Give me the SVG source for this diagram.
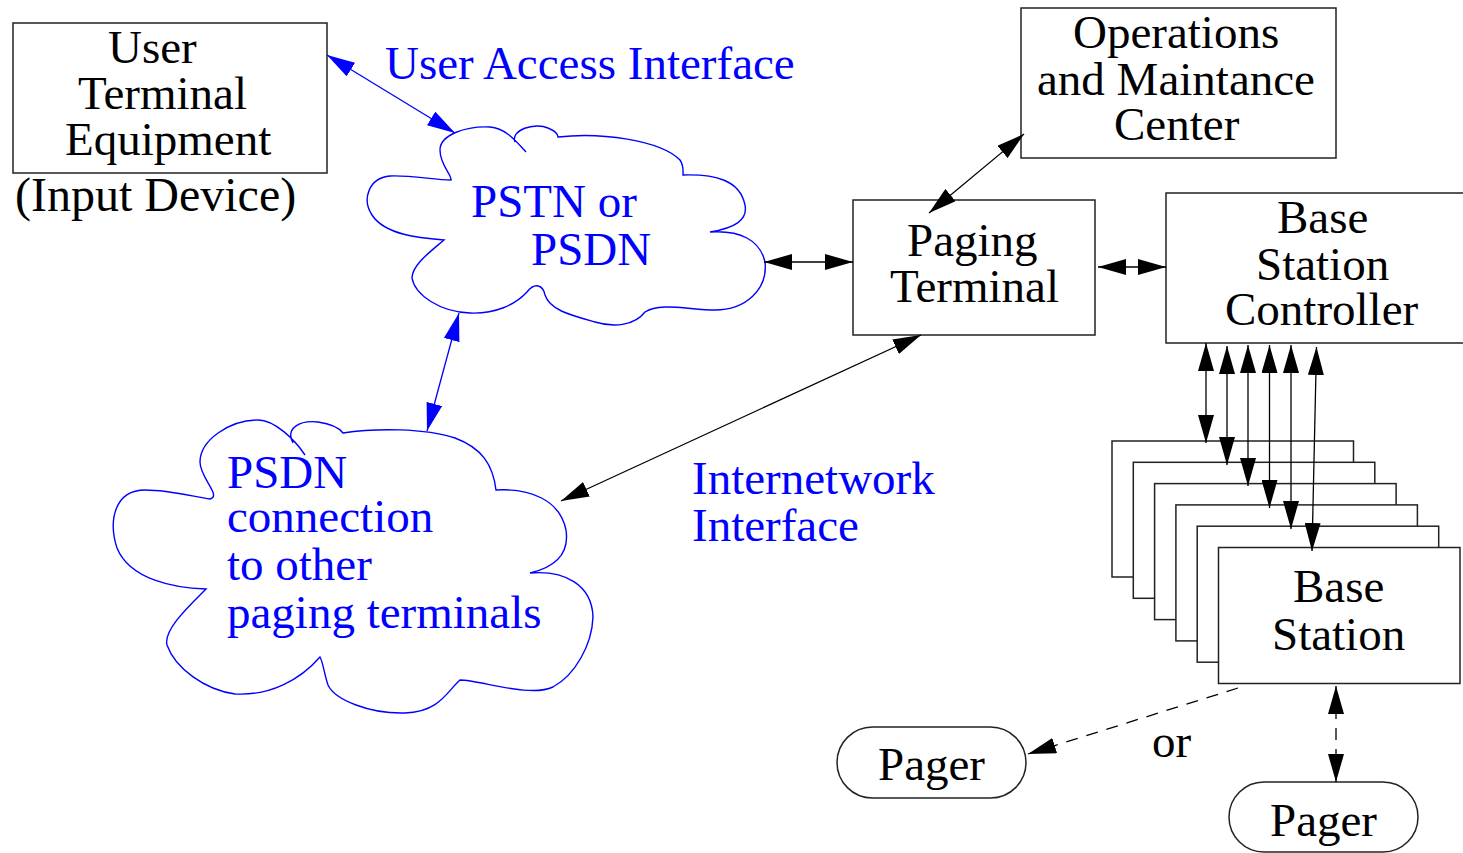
<svg xmlns="http://www.w3.org/2000/svg" width="1463" height="853" viewBox="0 0 1463 853">
<style>
  text { font-family: "Liberation Serif", "Times New Roman", serif; font-size: 47px; fill: #000; }
  .blue { fill: #0000ff; }
  .box { fill: #fff; stroke: #222; stroke-width: 1.5; }
  .cloud { fill: none; stroke: #0000ff; stroke-width: 1.4; }
  .ln { fill: none; stroke: #000; stroke-width: 1.3; }
  .lnb { fill: none; stroke: #0000ff; stroke-width: 1.3; }
  .dash { stroke-dasharray: 12 9; }
</style>
<defs>
  <marker id="ah" markerUnits="userSpaceOnUse" markerWidth="28" markerHeight="16" refX="28" refY="8" orient="auto-start-reverse">
    <path d="M0,0 L28,8 L0,16 z" fill="#000"/>
  </marker>
  <marker id="ahb" markerUnits="userSpaceOnUse" markerWidth="28" markerHeight="16" refX="28" refY="8" orient="auto-start-reverse">
    <path d="M0,0 L28,8 L0,16 z" fill="#0000ff"/>
  </marker>
</defs>
<rect width="1463" height="853" fill="#fff"/>

<g id="user-terminal">
  <rect class="box" x="13" y="23" width="314" height="150"/>
  <text x="108" y="63">User</text>
  <text x="78" y="109">Terminal</text>
  <text x="65" y="155">Equipment</text>
  <text x="15" y="211" style="font-size:48px">(Input Device)</text>
</g>

<g id="user-access-label">
  <text class="blue" x="385" y="79">User Access Interface</text>
</g>

<g id="pstn-cloud">
  <path class="cloud" d="M 515,142 C 510,130 535,122 548,128 C 555,131 558,134 558,137 C 600,132 660,140 680,160 C 684,166 683,172 683,175 C 715,174 740,180 745,205 C 748,220 735,228 710,232 C 740,230 760,240 765,262 C 768,290 745,310 715,310 C 690,310 660,302 645,312 C 635,325 615,328 595,322 C 570,315 550,310 545,295 C 543,285 535,282 527,292 C 515,305 495,314 470,313 C 440,312 415,295 412,278 C 412,265 430,252 444,240 C 420,238 385,235 372,215 C 362,200 368,178 390,176 C 410,175 435,180 451,180 C 452,175 440,165 440,150 C 440,135 465,126 490,127 C 505,128 515,140 526,152"/>
  <text class="blue" x="471" y="217">PSTN or</text>
  <text class="blue" x="531" y="265">PSDN</text>
</g>

<g id="psdn-cloud">
  <path class="cloud" d="M 293,443 C 285,428 300,420 318,422 C 332,424 340,429 343,433 C 375,428 425,428 455,438 C 482,448 493,465 496,490 C 530,488 560,500 566,530 C 569,550 560,566 530,573 C 565,570 592,585 593,617 C 592,645 575,675 553,687 C 530,698 480,680 460,680 C 448,690 440,712 405,713 C 370,714 335,700 328,685 C 324,673 323,662 320,657 C 300,680 270,696 235,694 C 205,690 175,668 167,645 C 163,630 190,605 206,589 C 175,588 130,580 117,548 C 108,520 115,490 145,490 C 170,490 195,497 210,499 C 222,496 200,478 200,462 C 200,440 230,420 258,420 C 275,420 295,440 305,455"/>
  <text class="blue" x="227" y="488">PSDN</text>
  <text class="blue" x="227" y="532">connection</text>
  <text class="blue" x="227" y="580">to other</text>
  <text class="blue" x="227" y="628">paging terminals</text>
</g>

<g id="operations">
  <rect class="box" x="1021" y="8" width="315" height="150"/>
  <text x="1073" y="48">Operations</text>
  <text x="1037" y="95">and Maintance</text>
  <text x="1114" y="140">Center</text>
</g>

<g id="paging-terminal">
  <rect class="box" x="853" y="200" width="242" height="135"/>
  <text x="907" y="256">Paging</text>
  <text x="890" y="302">Terminal</text>
</g>

<g id="base-station-controller">
  <rect class="box" x="1166" y="193" width="300" height="150"/>
  <text x="1277" y="233">Base</text>
  <text x="1256" y="280">Station</text>
  <text x="1225" y="325">Controller</text>
</g>

<g id="base-stations">
  <rect class="box" x="1112" y="441" width="241.5" height="136"/>
  <rect class="box" x="1133.3" y="462.3" width="241.5" height="136"/>
  <rect class="box" x="1154.6" y="483.6" width="241.5" height="136"/>
  <rect class="box" x="1175.9" y="504.9" width="241.5" height="136"/>
  <rect class="box" x="1197.2" y="526.2" width="241.5" height="136"/>
  <rect class="box" x="1218.5" y="547.5" width="241.5" height="136"/>
  <text x="1293" y="602">Base</text>
  <text x="1272" y="650">Station</text>
</g>

<g id="pager-left">
  <rect class="box" x="837" y="727" width="189" height="71" rx="35.5"/>
  <text x="878" y="780">Pager</text>
</g>

<g id="pager-right">
  <rect class="box" x="1229" y="782" width="189" height="70" rx="35"/>
  <text x="1270" y="836">Pager</text>
</g>

<g id="internetwork-label">
  <text class="blue" x="692" y="494">Internetwork</text>
  <text class="blue" x="692" y="541">Interface</text>
</g>

<g id="or-label">
  <text x="1152" y="757">or</text>
</g>

<g id="connectors">
  <line class="lnb" x1="327" y1="55" x2="455" y2="133" marker-start="url(#ahb)" marker-end="url(#ahb)"/>
  <line class="lnb" x1="459" y1="313" x2="427" y2="431" marker-start="url(#ahb)" marker-end="url(#ahb)"/>
  <line class="ln" x1="764" y1="262" x2="853" y2="262" marker-start="url(#ah)" marker-end="url(#ah)"/>
  <line class="ln" x1="929" y1="213" x2="1024" y2="134" marker-start="url(#ah)" marker-end="url(#ah)"/>
  <line class="ln" x1="1098" y1="267" x2="1166" y2="267" marker-start="url(#ah)" marker-end="url(#ah)"/>
  <line class="ln" x1="921" y1="335" x2="561" y2="501" marker-start="url(#ah)" marker-end="url(#ah)"/>
  <line class="ln" x1="1206" y1="343" x2="1206" y2="443" marker-start="url(#ah)" marker-end="url(#ah)"/>
  <line class="ln" x1="1227" y1="346" x2="1227" y2="465" marker-start="url(#ah)" marker-end="url(#ah)"/>
  <line class="ln" x1="1248" y1="345" x2="1248" y2="486" marker-start="url(#ah)" marker-end="url(#ah)"/>
  <line class="ln" x1="1269.5" y1="345" x2="1269.5" y2="508" marker-start="url(#ah)" marker-end="url(#ah)"/>
  <line class="ln" x1="1291" y1="345" x2="1291" y2="529" marker-start="url(#ah)" marker-end="url(#ah)"/>
  <line class="ln" x1="1316.5" y1="347" x2="1312" y2="551" marker-start="url(#ah)" marker-end="url(#ah)"/>
  <line class="ln dash" x1="1238" y1="688" x2="1028" y2="754" marker-end="url(#ah)"/>
  <line class="ln dash" x1="1336" y1="686" x2="1336" y2="782" marker-start="url(#ah)" marker-end="url(#ah)"/>
</g>
</svg>
